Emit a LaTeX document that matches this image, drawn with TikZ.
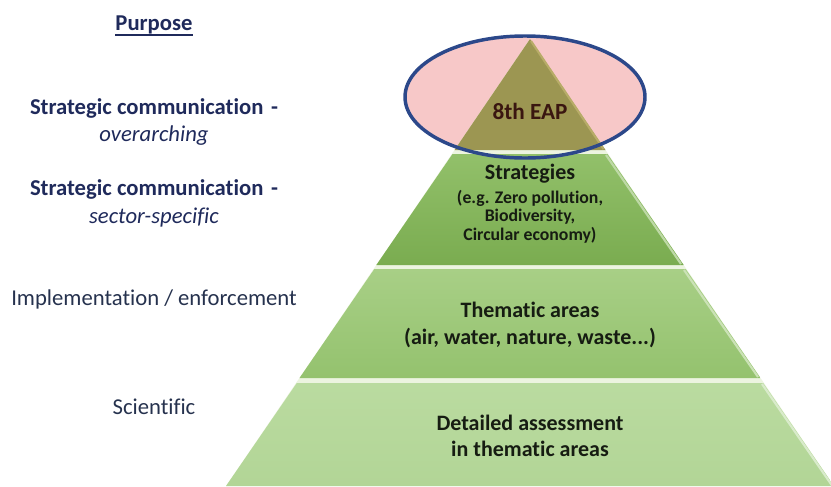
\documentclass[tikz,border=0pt]{standalone}
\usepackage{fontspec}
\setmainfont[Ligatures=NoCommon]{Carlito}
\definecolor{navy}{RGB}{31,42,91}
\definecolor{txtgray}{RGB}{38,50,78}
\definecolor{pinkfill}{RGB}{247,200,200}
\definecolor{ellline}{RGB}{44,72,138}
\definecolor{olive}{RGB}{156,150,82}
\definecolor{olivelight}{RGB}{184,172,104}
\definecolor{gTwoTop}{RGB}{146,192,106}
\definecolor{gTwoBot}{RGB}{122,172,80}
\definecolor{gThreeTop}{RGB}{168,207,134}
\definecolor{gThreeBot}{RGB}{148,194,110}
\definecolor{gFourTop}{RGB}{186,219,160}
\definecolor{gFourBot}{RGB}{178,213,150}
\definecolor{paleline}{RGB}{236,244,224}
\definecolor{tiertxt}{RGB}{22,28,18}
\definecolor{eaptxt}{RGB}{58,22,16}
\begin{document}
\begin{tikzpicture}[x=0.75pt,y=-0.75pt,
  leftbold/.style={font=\fontsize{17}{20}\selectfont\bfseries, text=navy, inner sep=0pt, anchor=base},
  leftital/.style={font=\fontsize{17}{20}\selectfont\itshape, text=navy, inner sep=0pt, anchor=base},
  leftreg/.style={font=\fontsize{17}{20}\selectfont, text=txtgray, inner sep=0pt, anchor=base},
  tierbig/.style={font=\fontsize{16.5}{20}\selectfont\bfseries, text=tiertxt, inner sep=0pt, anchor=base},
  tiersmall/.style={font=\fontsize{13.3}{16}\selectfont\bfseries, text=tiertxt, inner sep=0pt, anchor=base},
  bevel/.style={line width=1.6pt},
]
\useasboundingbox (0,0) rectangle (831,486);
\clip (0,0) rectangle (831,486);

% ellipse fill (behind pyramid)
\fill[pinkfill] (525,97) ellipse [x radius=120, y radius=61];

% pale base triangle (shows in gaps between tiers)
\fill[paleline] (530,39) -- (834,486) -- (226,486) -- cycle;

% tier 1 (8th EAP)
\fill[olive] (530,39) -- (605.5,150) -- (454.5,150) -- cycle;
\draw[bevel, color=olivelight] (531,41) -- (603.5,149);

% tier 2
\shade[top color=gTwoTop, bottom color=gTwoBot]
  (452.5,154) -- (607.5,154) -- (683.7,265) -- (376.3,265) -- cycle;
% tier 3
\shade[top color=gThreeTop, bottom color=gThreeBot]
  (374.3,269) -- (685.7,269) -- (760.5,378) -- (299.5,378) -- cycle;
% tier 4
\shade[top color=gFourTop, bottom color=gFourBot]
  (296.8,383) -- (763.2,383) -- (834,486) -- (226,486) -- cycle;

% right-edge bevels
\draw[bevel, color=gTwoTop!60!white] (606,155) -- (681,264);
\draw[bevel, color=gThreeTop!60!white] (684,270) -- (758,377);
\draw[bevel, color=gFourTop!55!white] (762,384) -- (833,487);

% ellipse outline
\draw[ellline, line width=2.6pt] (525,97) ellipse [x radius=120, y radius=61];

% pyramid texts
\node[font=\fontsize{17.4}{20}\selectfont\bfseries, text=eaptxt, inner sep=0pt, anchor=base] (eap) at (530,119) {8th EAP};
\node[tierbig] (strat) at (530,179) {Strategies};
\node[tiersmall] (eg1) at (530,203) {(e.g. Zero pollution,};
\node[tiersmall] (eg2) at (530,221) {Biodiversity,};
\node[tiersmall] (eg3) at (530,240) {Circular economy)};
\node[tierbig] (them1) at (530,317) {Thematic areas};
\node[tierbig] (them2) at (530,344) {(air, water, nature, waste...)};
\node[tierbig] (det1) at (530,430) {Detailed assessment};
\node[tierbig] (det2) at (530,456) {in thematic areas};

% left column
\node[leftbold] (purpose) at (154,30) {Purpose};
\draw[navy, line width=1.3pt] ([yshift=-3.5]purpose.base west) -- ([yshift=-3.5]purpose.base east);
\node[leftbold] (sc1) at (154,114) {Strategic communication\,\,-};
\node[leftital] (over) at (154,141) {overarching};
\node[leftbold] (sc2) at (154,195) {Strategic communication\,\,-};
\node[leftital] (sect) at (154,223) {sector-specific};
\node[leftreg] (impl) at (154,305) {Implementation / enforcement};
\node[leftreg] (sci) at (154,414) {Scientific};
\end{tikzpicture}
\end{document}
